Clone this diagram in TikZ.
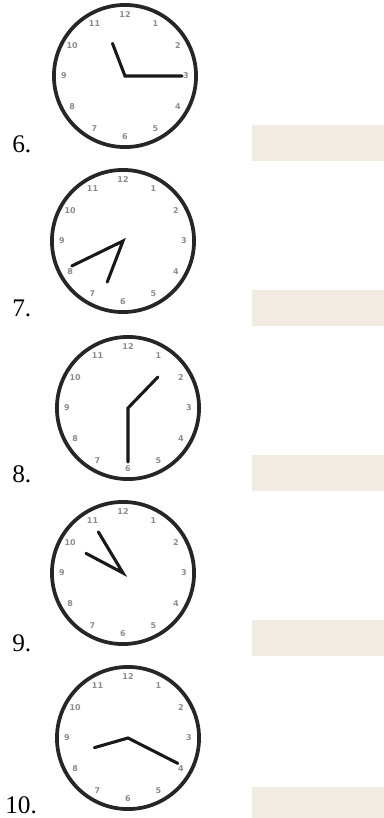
\documentclass[tikz,border=0pt]{standalone}
\usepackage{tikz}
\usepackage{fontspec}
\setmainfont{Liberation Serif}
\setsansfont{DejaVu Sans}
\usetikzlibrary{positioning}
\definecolor{answerbg}{RGB}{242,235,225}
\definecolor{dialgray}{RGB}{140,140,140}

\tikzset{
  clockrim/.style={draw=black!85, line width=2.8pt},
  clockhand/.style={draw=black!90, line width=2.3pt, line cap=round},
  dialnum/.style={font=\sffamily\bfseries\fontsize{6}{6}\selectfont, text=dialgray, inner sep=0pt},
  itemlabel/.style={font=\fontsize{19}{19}\selectfont, anchor=base west, inner sep=0pt},
  answerbox/.style={fill=answerbg, draw=none, anchor=north west, minimum width=98.5pt, minimum height=27pt, inner sep=0pt}
}

\begin{document}
\begin{tikzpicture}[x=0.75pt, y=-0.75pt]
    \useasboundingbox (0,0) rectangle (383,818);

    % Clocks: number / centre / hour hand (angle, length) / minute hand (angle, length) / label x, baseline / box top
    \foreach \n/\cx/\cy/\ha/\hl/\ma/\ml/\lx/\ly/\by in {
        6/125/76/339/35/90/57/12/152/125,
        7/123/241/201/44/244/57/12/316/290,
        8/128/408/44/43/180/54/12/482/455,
        9/123/573/298/42/329/48/12/651/620,
        10/128/738/254/35/117/56/5/813/787}{
        % Dial
        \draw[clockrim] (\cx,\cy) circle[radius=53.3pt];
        \foreach \h in {1,...,12}
            \node[dialnum] (num\n-\h) at ({\cx+61*sin(30*\h)},{\cy-61*cos(30*\h)}) {\h};
        % Hands
        \coordinate (hub\n) at (\cx,\cy);
        \coordinate (hour\n) at ({\cx+\hl*sin(\ha)},{\cy-\hl*cos(\ha)});
        \coordinate (min\n) at ({\cx+\ml*sin(\ma)},{\cy-\ml*cos(\ma)});
        \draw[clockhand] (hour\n) -- (hub\n) -- (min\n);
        % Item number and answer field
        \node[itemlabel] (lbl\n) at (\lx,\ly) {\n.};
        \node[answerbox] (ans\n) at (252,\by) {};
    }

\end{tikzpicture}
\end{document}
